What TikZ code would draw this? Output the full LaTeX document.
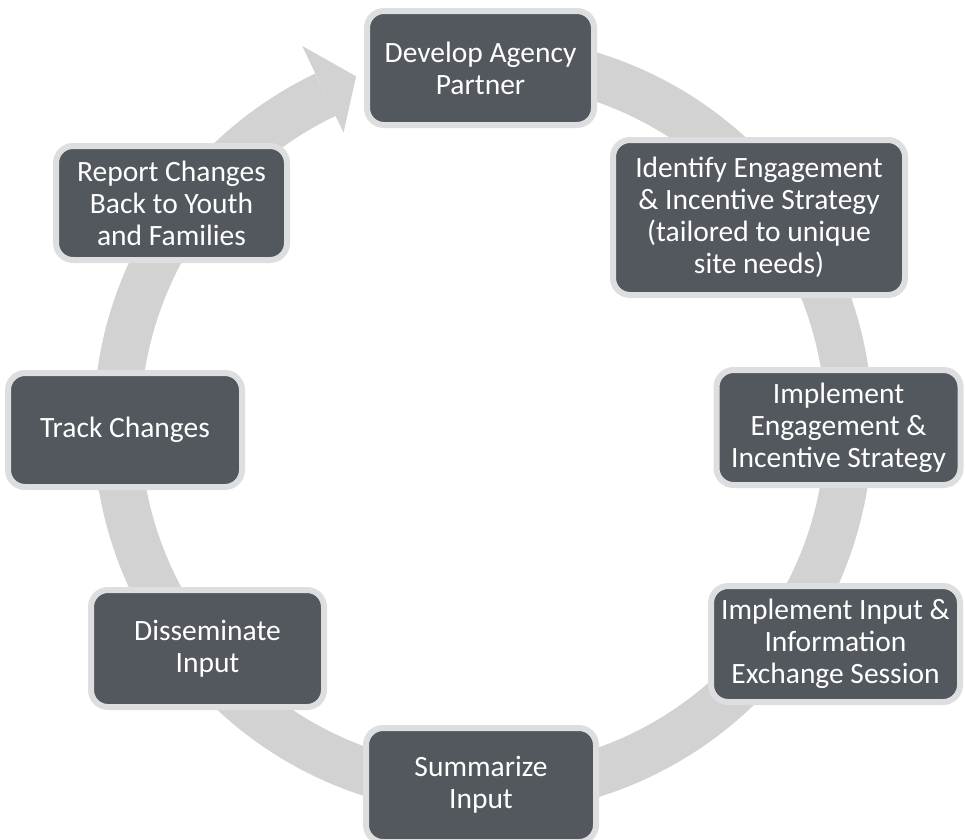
\documentclass[tikz,border=0pt]{standalone}
\usepackage{fontspec}
\setmainfont{Carlito}
\usetikzlibrary{backgrounds,calc}
\definecolor{stagefill}{RGB}{83,87,94}
\definecolor{stageedge}{RGB}{221,222,224}
\definecolor{ringgray}{RGB}{210,210,210}

\begin{document}
\begin{tikzpicture}[
  x=1pt, y=-1pt,
  font=\fontsize{29.5}{32}\selectfont,
  stage/.style={draw=stageedge, line width=6pt, fill=stagefill,
    rounded corners=17pt, text=white, align=center, inner sep=0pt},
  ring/.style={draw=ringgray, line width=47pt}
]
\useasboundingbox (0,0) rectangle (965,839);
\coordinate (hub) at (483,425);

\node[stage, minimum width=227pt, minimum height=114pt] (develop) at (480.5,68) {Develop Agency\\Partner};
\node[stage, minimum width=292pt, minimum height=155pt] (identify) at (759,217.5) {Identify Engagement\\\& Incentive Strategy\\(tailored to unique\\site needs)};
\node[stage, minimum width=244pt, minimum height=115pt] (engage) at (838.5,427.5) {Implement\\Engagement \&\\Incentive Strategy};
\node[stage, minimum width=249pt, minimum height=116pt] (exchange) at (835.5,644) {Implement Input \&\\Information\\Exchange Session};
\node[stage, minimum width=230pt, minimum height=114pt] (summarize) at (481,785) {Summarize\\Input};
\node[stage, minimum width=233pt, minimum height=117pt] (disseminate) at (207.5,648.5) {Disseminate\\Input};
\node[stage, minimum width=234pt, minimum height=114pt] (track) at (125,430) {Track Changes};
\node[stage, minimum width=231pt, minimum height=114pt] (report) at (171.5,203) {Report Changes\\Back to Youth\\and Families};

% cycle ring behind the stages
\begin{scope}[on background layer]
\draw[ring] ($(hub)+(80:366pt)$) arc[start angle=80, end angle=-244.5, radius=366pt];
\fill[ringgray] ($(hub)+(110:371pt)$) -- ($(hub)+(115.5:420pt)$) -- ($(hub)+(115.5:324pt)$) -- cycle;
\end{scope}
\end{tikzpicture}
\end{document}
